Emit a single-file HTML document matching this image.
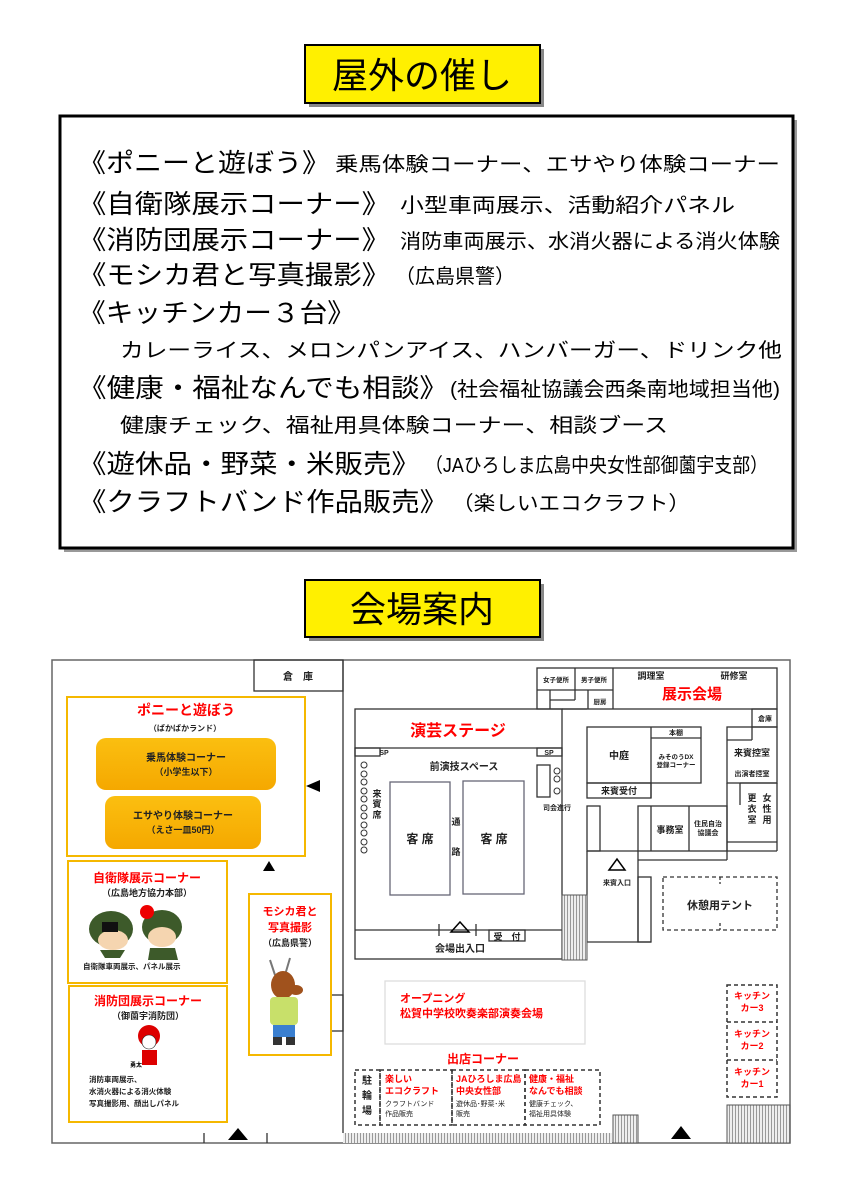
<!DOCTYPE html>
<html><head><meta charset="utf-8"><style>
html,body{margin:0;padding:0;background:#fff;}
svg{display:block;font-family:"Liberation Sans","Noto Sans CJK JP",sans-serif;}
</style></head><body>
<svg width="849" height="1200" viewBox="0 0 849 1200" xmlns="http://www.w3.org/2000/svg">
<defs>
<pattern id="h" width="3" height="3" patternUnits="userSpaceOnUse"><rect width="3" height="3" fill="#eee"/><rect width="1" height="3" fill="#999"/></pattern>
<linearGradient id="og" x1="0" y1="0" x2="0" y2="1"><stop offset="0" stop-color="#fbbf10"/><stop offset="1" stop-color="#f5a800"/></linearGradient>
</defs>
<!-- Title 1 -->
<rect x="309" y="49" width="235" height="58" fill="#888"/>
<rect x="305" y="45" width="235" height="58" fill="#fff000" stroke="#000" stroke-width="2"/>
<text x="422" y="88" font-size="36" text-anchor="middle">屋外の催し</text>
<!-- Main box -->
<rect x="64" y="120" width="733" height="432" fill="#999"/>
<rect x="60" y="116" width="733" height="432" fill="#fff" stroke="#000" stroke-width="3"/>
<g font-size="26">
<text x="78" y="172" textLength="252" lengthAdjust="spacingAndGlyphs">《ポニーと遊ぼう》</text>
<text x="78" y="213" textLength="312" lengthAdjust="spacingAndGlyphs">《自衛隊展示コーナー》</text>
<text x="78" y="249" textLength="312" lengthAdjust="spacingAndGlyphs">《消防団展示コーナー》</text>
<text x="78" y="284" textLength="312" lengthAdjust="spacingAndGlyphs">《モシカ君と写真撮影》</text>
<text x="78" y="322" textLength="277" lengthAdjust="spacingAndGlyphs">《キッチンカー３台》</text>
<text x="78" y="397" textLength="370" lengthAdjust="spacingAndGlyphs">《健康・福祉なんでも相談》</text>
<text x="78" y="473" textLength="342" lengthAdjust="spacingAndGlyphs">《遊休品・野菜・米販売》</text>
<text x="78" y="511" textLength="370" lengthAdjust="spacingAndGlyphs">《クラフトバンド作品販売》</text>
</g>
<g font-size="20">
<text x="335" y="171" textLength="445" lengthAdjust="spacingAndGlyphs">乗馬体験コーナー、エサやり体験コーナー</text>
<text x="400" y="212" textLength="335" lengthAdjust="spacingAndGlyphs">小型車両展示、活動紹介パネル</text>
<text x="400" y="248" textLength="380" lengthAdjust="spacingAndGlyphs">消防車両展示、水消火器による消火体験</text>
<text x="395" y="283" textLength="120" lengthAdjust="spacingAndGlyphs">（広島県警）</text>
<text x="120" y="357" textLength="662" lengthAdjust="spacingAndGlyphs">カレーライス、メロンパンアイス、ハンバーガー、ドリンク他</text>
<text x="450" y="396" textLength="330" lengthAdjust="spacingAndGlyphs">(社会福祉協議会西条南地域担当他)</text>
<text x="120" y="432" textLength="548" lengthAdjust="spacingAndGlyphs">健康チェック、福祉用具体験コーナー、相談ブース</text>
<text x="425" y="472" textLength="343" lengthAdjust="spacingAndGlyphs">（JAひろしま広島中央女性部御薗宇支部）</text>
<text x="452" y="510" textLength="238" lengthAdjust="spacingAndGlyphs">（楽しいエコクラフト）</text>
</g>
<!-- Title 2 -->
<rect x="309" y="584" width="235" height="57" fill="#888"/>
<rect x="305" y="580" width="235" height="57" fill="#fff000" stroke="#000" stroke-width="2"/>
<text x="422" y="622" font-size="36" text-anchor="middle">会場案内</text>

<!-- Map -->
<rect x="52" y="660" width="738" height="483" fill="#fff" stroke="#666" stroke-width="1.5"/>
<g fill="none" stroke="#333" stroke-width="1.3">
<rect x="254" y="660" width="89" height="31"/>
<line x1="343" y1="660" x2="343" y2="1133"/>
<!-- stage -->
<rect x="355" y="709" width="207" height="250"/>
<line x1="355" y1="748" x2="562" y2="748"/>
<rect x="355" y="748" width="25" height="8"/>
<rect x="537" y="748" width="25" height="8"/>
<line x1="355" y1="930" x2="562" y2="930"/>
<rect x="489" y="930" width="36" height="11"/>
<line x1="439" y1="924" x2="439" y2="936"/><line x1="476" y1="924" x2="476" y2="936"/>
<rect x="390" y="782" width="60" height="113" stroke="#667"/>
<rect x="463" y="781" width="61" height="113" stroke="#667"/>
<rect x="537" y="765" width="13" height="32"/>
<!-- building -->
<rect x="537" y="668" width="240" height="41"/>
<line x1="575" y1="668" x2="575" y2="690"/><line x1="613" y1="668" x2="613" y2="709"/>
<line x1="537" y1="690" x2="613" y2="690"/>
<line x1="550" y1="690" x2="550" y2="709"/><line x1="550" y1="700" x2="575" y2="700"/><line x1="575" y1="690" x2="575" y2="700"/>
<line x1="588" y1="690" x2="588" y2="709"/>
<line x1="562" y1="709" x2="587" y2="709"/>
<rect x="752" y="709" width="25" height="18"/>
<rect x="587" y="727" width="114" height="56"/>
<line x1="651" y1="727" x2="651" y2="798"/>
<line x1="651" y1="738" x2="701" y2="738"/>
<rect x="587" y="783" width="64" height="15"/>
<rect x="727" y="727" width="50" height="56"/>
<line x1="727" y1="740" x2="752" y2="740"/><line x1="752" y1="727" x2="752" y2="740"/>
<line x1="740" y1="783" x2="777" y2="783"/><line x1="740" y1="783" x2="740" y2="805"/>
<line x1="777" y1="783" x2="777" y2="851"/>
<line x1="727" y1="842" x2="777" y2="842"/><line x1="727" y1="851" x2="777" y2="851"/>
<line x1="727" y1="783" x2="727" y2="860"/>
<rect x="638" y="806" width="89" height="45"/>
<line x1="651" y1="806" x2="651" y2="851"/><line x1="689" y1="806" x2="689" y2="851"/>
<line x1="638" y1="860" x2="727" y2="860"/>
<rect x="587" y="806" width="13" height="45"/>
<line x1="587" y1="851" x2="638" y2="851"/>
<line x1="587" y1="851" x2="587" y2="942"/><line x1="562" y1="942" x2="651" y2="942"/>
<line x1="638" y1="851" x2="638" y2="942"/>
<rect x="638" y="877" width="13" height="65"/>
<rect x="663" y="877" width="114" height="53" stroke-dasharray="4,3"/>
<line x1="720" y1="877" x2="720" y2="884" stroke-dasharray="3,2"/>
<line x1="720" y1="923" x2="720" y2="930" stroke-dasharray="3,2"/>
<!-- lower -->
<rect x="385" y="981" width="200" height="63" stroke="#ddd"/>
<g stroke-dasharray="4,3" stroke-width="1.5">
<rect x="355" y="1070" width="25" height="55"/>
<rect x="380" y="1070" width="72" height="55"/>
<rect x="452" y="1070" width="73" height="55"/>
<rect x="525" y="1070" width="75" height="55"/>
<rect x="727" y="985" width="50" height="112"/>
<line x1="727" y1="1022" x2="777" y2="1022"/><line x1="727" y1="1060" x2="777" y2="1060"/>
</g>
<rect x="331" y="995" width="12" height="36"/>
<line x1="204" y1="1133" x2="204" y2="1143"/><line x1="267" y1="1133" x2="267" y2="1143"/>
<!-- left boxes -->
<g stroke="#f5b800" stroke-width="2">
<rect x="67" y="697" width="238" height="159"/>
<rect x="68" y="861" width="159" height="122"/>
<rect x="69" y="986" width="158" height="136"/>
<rect x="249" y="894" width="82" height="161"/>
</g>
</g>
<!-- hatch -->
<rect x="562" y="895" width="25" height="65" fill="url(#h)" stroke="#555"/>
<rect x="343" y="1133" width="269" height="10" fill="url(#h)"/>
<rect x="613" y="1115" width="25" height="28" fill="url(#h)" stroke="#555"/>
<rect x="727" y="1105" width="63" height="38" fill="url(#h)" stroke="#555"/>
<!-- triangles -->
<g fill="#000">
<polygon points="306,786 320,780 320,792"/>
<polygon points="263,871 269,861 275,871"/>
<polygon points="228,1140 238,1128 248,1140"/>
<polygon points="671,1139 681,1126 691,1139"/>
</g>
<g fill="none" stroke="#000" stroke-width="1.5">
<polygon points="451,932 460,922 469,932"/>
<polygon points="609,870 617,859 625,870"/>
</g>
<!-- seat circles -->
<g fill="none" stroke="#333" stroke-width="1">
<circle cx="364" cy="765" r="3"/><circle cx="364" cy="774" r="3"/><circle cx="364" cy="782" r="3"/><circle cx="364" cy="791" r="3"/><circle cx="364" cy="799" r="3"/><circle cx="364" cy="808" r="3"/><circle cx="364" cy="816" r="3"/><circle cx="364" cy="825" r="3"/><circle cx="364" cy="833" r="3"/><circle cx="364" cy="842" r="3"/><circle cx="364" cy="850" r="3"/>
<circle cx="557" cy="771" r="3"/><circle cx="557" cy="779" r="3"/><circle cx="557" cy="791" r="3"/>
</g>
<!-- map text -->
<g font-size="9" font-weight="bold" fill="#222" text-anchor="middle">
<text x="298" y="680" font-size="10">倉　庫</text>
<text x="384" y="755" font-size="7">SP</text>
<text x="549" y="755" font-size="7">SP</text>
<text x="464" y="770" font-size="10">前演技スペース</text>
<text x="377" y="797" font-size="9">来</text><text x="377" y="807" font-size="9">賓</text><text x="377" y="818" font-size="9">席</text>
<text x="420" y="843" font-size="12">客 席</text>
<text x="494" y="843" font-size="12">客 席</text>
<text x="456" y="825">通</text><text x="456" y="855">路</text>
<text x="557" y="810" font-size="7">司会進行</text>
<text x="460" y="952" font-size="10">会場出入口</text>
<text x="507" y="940" font-size="9">受　付</text>
<text x="556" y="682" font-size="6.5">女子便所</text>
<text x="594" y="682" font-size="6.5">男子便所</text>
<text x="600" y="704" font-size="6.5">厨房</text>
<text x="651" y="679" font-size="9">調理室</text>
<text x="734" y="679" font-size="9">研修室</text>
<text x="765" y="721" font-size="7">倉庫</text>
<text x="619" y="759" font-size="10">中庭</text>
<text x="676" y="735" font-size="7">本棚</text>
<text x="676" y="759" font-size="6.5">みそのうDX</text>
<text x="676" y="767" font-size="6.5">登録コーナー</text>
<text x="619" y="794" font-size="9">来賓受付</text>
<text x="752" y="756" font-size="9">来賓控室</text>
<text x="752" y="776" font-size="7">出演者控室</text>
<text x="752" y="801">更</text><text x="752" y="812">衣</text><text x="752" y="823">室</text>
<text x="767" y="801">女</text><text x="767" y="812">性</text><text x="767" y="823">用</text>
<text x="670" y="833" font-size="9">事務室</text>
<text x="708" y="826" font-size="7">住民自治</text>
<text x="708" y="835" font-size="7">協議会</text>
<text x="617" y="885" font-size="7">来賓入口</text>
<text x="720" y="909" font-size="11">休憩用テント</text>
<text x="367" y="1084" font-size="10">駐</text><text x="367" y="1099" font-size="10">輪</text><text x="367" y="1114" font-size="10">場</text>
</g>
<g font-weight="bold" fill="#f00">
<text x="458" y="736" font-size="16" text-anchor="middle">演芸ステージ</text>
<text x="692" y="699" font-size="15" text-anchor="middle">展示会場</text>
<text x="400" y="1002" font-size="11">オープニング</text>
<text x="400" y="1017" font-size="11">松賀中学校吹奏楽部演奏会場</text>
<text x="483" y="1063" font-size="12" text-anchor="middle">出店コーナー</text>
<g font-size="9">
<text x="385" y="1082">楽しい</text><text x="385" y="1094">エコクラフト</text>
<text x="456" y="1082">JAひろしま広島</text><text x="456" y="1094">中央女性部</text>
<text x="529" y="1082">健康・福祉</text><text x="529" y="1094">なんでも相談</text>
</g>
<g font-size="9" text-anchor="middle">
<text x="752" y="999">キッチン</text><text x="752" y="1011">カー3</text>
<text x="752" y="1037">キッチン</text><text x="752" y="1049">カー2</text>
<text x="752" y="1075">キッチン</text><text x="752" y="1087">カー1</text>
</g>
<g text-anchor="middle">
<text x="186" y="715" font-size="14">ポニーと遊ぼう</text>
<text x="147" y="882" font-size="12">自衛隊展示コーナー</text>
<text x="148" y="1005" font-size="12">消防団展示コーナー</text>
<text x="290" y="915" font-size="11">モシカ君と</text>
<text x="290" y="931" font-size="11">写真撮影</text>
</g>
</g>
<g font-size="7" fill="#222">
<text x="385" y="1106">クラフトバンド</text><text x="385" y="1116">作品販売</text>
<text x="456" y="1106">遊休品･野菜･米</text><text x="456" y="1116">販売</text>
<text x="529" y="1106">健康チェック、</text><text x="529" y="1116">福祉用具体験</text>
</g>
<!-- left content -->
<rect x="96" y="738" width="180" height="52" rx="10" fill="url(#og)"/>
<rect x="105" y="796" width="156" height="53" rx="10" fill="url(#og)"/>
<g font-weight="bold" fill="#222" text-anchor="middle">
<text x="185" y="731" font-size="8">（ぱかぱかランド）</text>
<text x="186" y="761" font-size="10">乗馬体験コーナー</text>
<text x="186" y="775" font-size="9">（小学生以下）</text>
<text x="183" y="819" font-size="10">エサやり体験コーナー</text>
<text x="183" y="833" font-size="9">（えさ一皿50円）</text>
<text x="147" y="896" font-size="9">（広島地方協力本部）</text>
<text x="148" y="1019" font-size="9">（御薗宇消防団）</text>
<text x="290" y="946" font-size="9">（広島県警）</text>
</g>
<g font-size="7.5" font-weight="bold" fill="#222">
<text x="83" y="969">自衛隊車両展示、パネル展示</text>
<text x="89" y="1082">消防車両展示、</text>
<text x="89" y="1094">水消火器による消火体験</text>
<text x="89" y="1106">写真撮影用、顔出しパネル</text>
</g>
<!-- self defense chars -->
<g>
<ellipse cx="111" cy="929" rx="22" ry="18" fill="#3d5a2a"/>
<ellipse cx="113" cy="940" rx="15" ry="10" fill="#f5d5b0"/>
<rect x="102" y="922" width="16" height="10" fill="#111"/>
<ellipse cx="162" cy="927" rx="20" ry="17" fill="#3d5a2a"/>
<ellipse cx="162" cy="937" rx="14" ry="10" fill="#f5d5b0"/>
<circle cx="147" cy="912" r="7" fill="#e00"/>
<path d="M100 950 L125 950 L120 958 L105 958Z M150 948 L175 948 L178 960 L148 960Z" fill="#3d5a2a"/>
</g>
<!-- fireman -->
<circle cx="149" cy="1036" r="11" fill="#d00"/>
<circle cx="149" cy="1042" r="7" fill="#fff" stroke="#222" stroke-width="0.6"/>
<rect x="142" y="1050" width="15" height="15" fill="#d00"/>
<text x="130" y="1067" font-size="6" font-weight="bold">勇太</text>
<!-- deer -->
<g>
<path d="M270 960 L275 975 M290 958 L285 975" stroke="#777" stroke-width="2"/>
<ellipse cx="283" cy="985" rx="12" ry="14" fill="#a0521d"/>
<ellipse cx="296" cy="990" rx="7" ry="5" fill="#a0521d"/>
<rect x="270" y="997" width="28" height="28" rx="4" fill="#c8e06a"/>
<rect x="273" y="1025" width="22" height="12" fill="#3a7fd0"/>
<rect x="273" y="1037" width="9" height="8" fill="#333"/><rect x="286" y="1037" width="9" height="8" fill="#333"/>
</g>
</svg>
</body></html>
